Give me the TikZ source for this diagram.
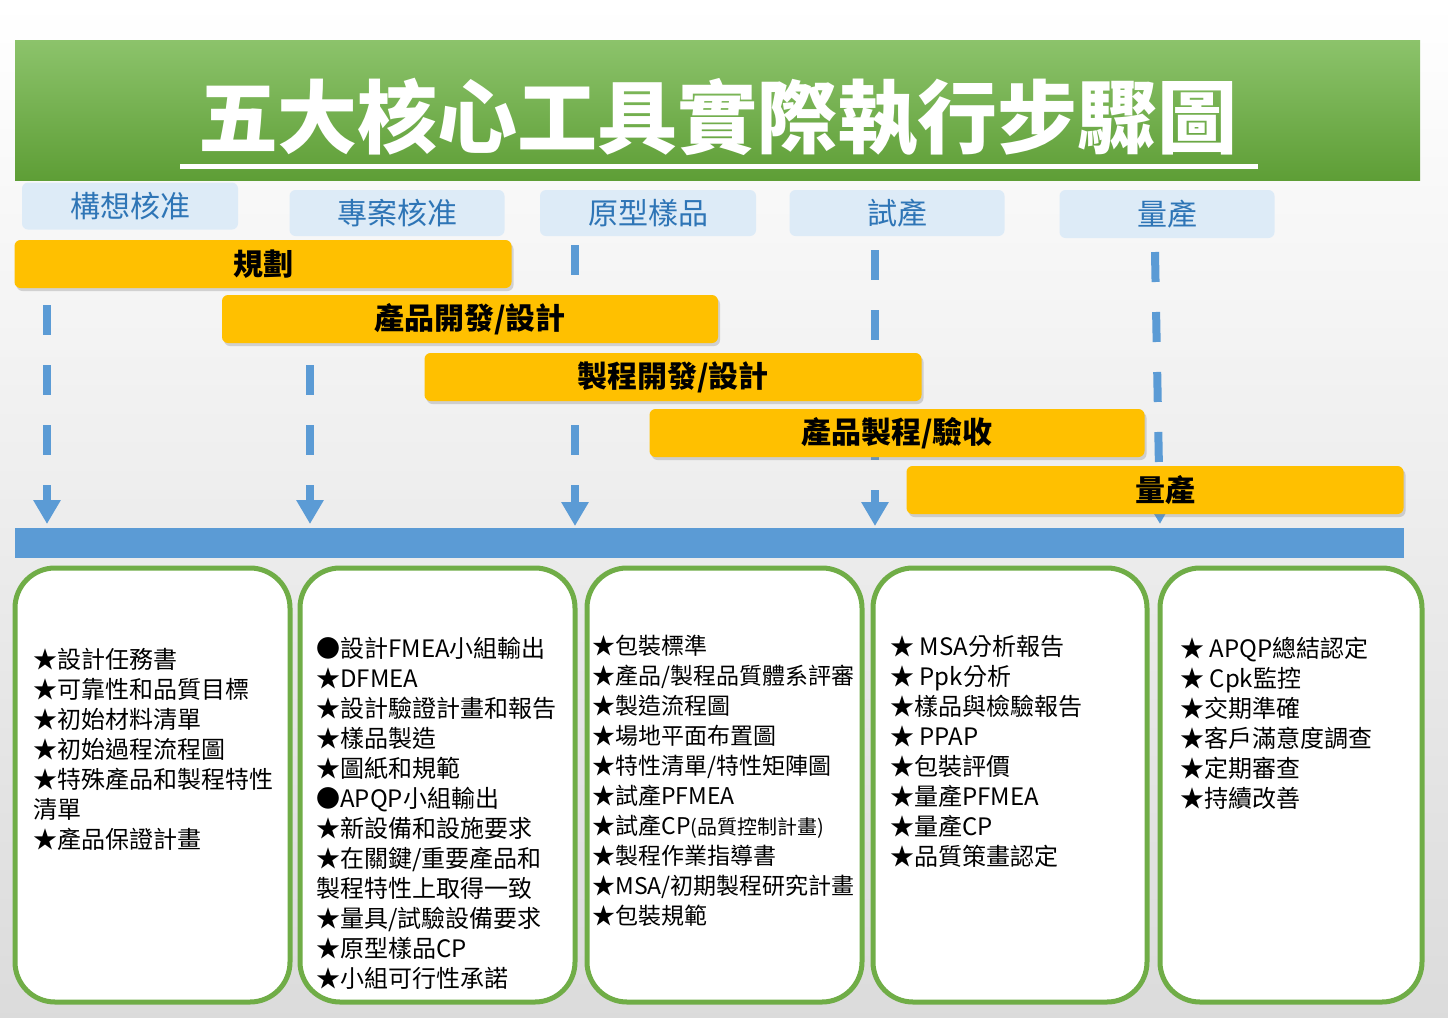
\documentclass[tikz,border=0pt]{standalone}
\usepackage{fontspec}
\setmainfont{Noto Sans CJK TC}
\usetikzlibrary{arrows.meta,shadows}
\definecolor{phblue}{HTML}{2E75B6}
\definecolor{phbg}{HTML}{DDEBF7}
\definecolor{ybar}{HTML}{FFC000}
\definecolor{aBlue}{HTML}{5B9BD5}
\definecolor{gBord}{HTML}{70AD47}
\tikzset{
 phase/.style={fill=phbg,text=phblue,font=\fontsize{15}{18}\selectfont,inner sep=0pt,rounded corners=3pt},
 ybarbox/.style={fill=ybar,font=\bfseries\fontsize{15}{18}\selectfont,inner sep=0pt,rounded corners=3pt,drop shadow={opacity=0.3,shadow xshift=1pt,shadow yshift=-1.5pt}},
 darr/.style={aBlue,line width=4pt,dash pattern=on 15pt off 15pt,-{Triangle[width=13pt,length=12pt]}},
 boxp/.style={draw=gBord,line width=2.5pt,fill=white,rounded corners=20pt},
 btxt/.style={anchor=north west,align=left,font=\fontsize{12}{15}\selectfont,inner sep=0pt}
}
\begin{document}
\begin{tikzpicture}[x=0.5pt,y=-0.5pt]
\useasboundingbox (0,0) rectangle (1448,1018);
\shade[top color=white,bottom color=gray!28] (0,0) rectangle (1448,1018);
% title
\fill[top color={rgb,255:red,140;green,195;blue,107},bottom color={rgb,255:red,94;green,158;blue,54}] (15,40) rectangle (1420,180);
\node[text=white,font=\bfseries\fontsize{40}{44}\selectfont,inner sep=0pt] (title) at (718,118) {五大核心工具實際執行步驟圖};
\draw[white,line width=2.5pt] (180,166) coordinate (u1) -- (1258,166) coordinate (u2);
% phases
\node[phase,minimum width=216*0.5pt,minimum height=47*0.5pt] (p1) at (130,206) {構想核准};
\node[phase,minimum width=215*0.5pt,minimum height=46*0.5pt] (p2) at (397,213) {專案核准};
\node[phase,minimum width=216*0.5pt,minimum height=46*0.5pt] (p3) at (648,213) {原型樣品};
\node[phase,minimum width=215*0.5pt,minimum height=46*0.5pt] (p4) at (897,213) {試產};
\node[phase,minimum width=215*0.5pt,minimum height=48*0.5pt] (p5) at (1167,214) {量產};
% arrow endpoints
\coordinate (a1s) at (47,305); \coordinate (a1e) at (47,524);
\coordinate (a2s) at (310,365); \coordinate (a2e) at (310,524);
\coordinate (a3s) at (575,245); \coordinate (a3e) at (575,526);
\coordinate (a4s) at (875,250); \coordinate (a4e) at (875,526);
\coordinate (a5s) at (1155,252); \coordinate (a5e) at (1160,524);
\foreach \i in {1,...,5} \draw[darr] (a\i s) -- (a\i e);
% bars
\node[ybarbox,minimum width=497*0.5pt,minimum height=48*0.5pt] (b1) at (263,264) {規劃};
\node[ybarbox,minimum width=496*0.5pt,minimum height=48*0.5pt] (b2) at (470,319) {產品開發/設計};
\node[ybarbox,minimum width=497*0.5pt,minimum height=48*0.5pt] (b3) at (673,377) {製程開發/設計};
\node[ybarbox,minimum width=495*0.5pt,minimum height=48*0.5pt] (b4) at (897,433) {產品製程/驗收};
\node[ybarbox,minimum width=497*0.5pt,minimum height=48*0.5pt] (b5) at (1155,490) {\hspace*{10pt}量產};
\fill[aBlue] (15,528) rectangle (1404,558);
% boxes
\draw[boxp] (15,568) rectangle (290,1002);
\draw[boxp] (300,568) rectangle (575,1002);
\draw[boxp] (587,568) rectangle (862,1002);
\draw[boxp] (873,568) rectangle (1147,1002);
\draw[boxp] (1160,568) rectangle (1422,1002);
\node[btxt] (t1) at (33,648) {★設計任務書\\★可靠性和品質目標\\★初始材料清單\\★初始過程流程圖\\★特殊產品和製程特性\\清單\\★產品保證計畫};
\node[btxt] (t2) at (316,637) {●設計FMEA小組輸出\\★DFMEA\\★設計驗證計畫和報告\\★樣品製造\\★圖紙和規範\\●APQP小組輸出\\★新設備和設施要求\\★在關鍵/重要產品和\\製程特性上取得一致\\★量具/試驗設備要求\\★原型樣品CP\\★小組可行性承諾};
\node[btxt,font=\fontsize{11.5}{15}\selectfont] (t3) at (592,635) {★包裝標準\\★產品/製程品質體系評審\\★製造流程圖\\★場地平面布置圖\\★特性清單/特性矩陣圖\\★試產PFMEA\\★試產CP{\fontsize{10}{15}\selectfont(品質控制計畫)}\\★製程作業指導書\\★MSA/初期製程研究計畫\\★包裝規範};
\node[btxt] (t4) at (890,635) {★ MSA分析報告\\★ Ppk分析\\★樣品與檢驗報告\\★ PPAP\\★包裝評價\\★量產PFMEA\\★量產CP\\★品質策畫認定};
\node[btxt] (t5) at (1180,637) {★ APQP總結認定\\★ Cpk監控\\★交期準確\\★客戶滿意度調查\\★定期審查\\★持續改善};
\end{tikzpicture}
\end{document}
